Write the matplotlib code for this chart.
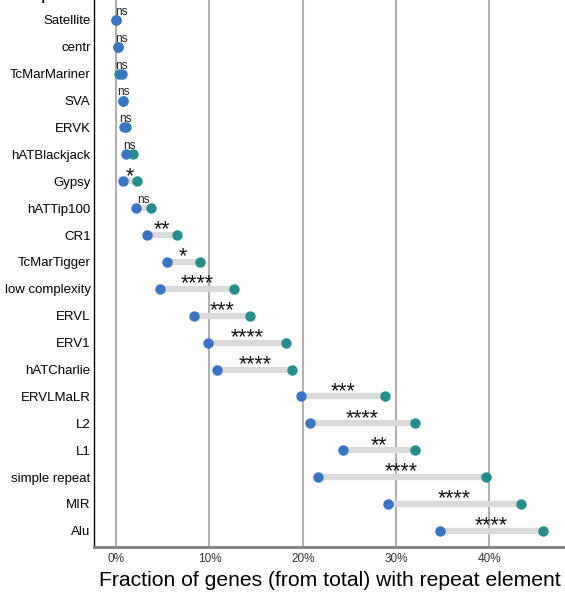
import matplotlib
matplotlib.use("Agg")
import matplotlib.pyplot as plt

plt.rcParams["font.family"] = ["Liberation Sans", "DejaVu Sans"]

repeats = ["Satellite", "centr", "TcMarMariner", "SVA", "ERVK", "hATBlackjack",
           "Gypsy", "hATTip100", "CR1", "TcMarTigger", "low complexity", "ERVL",
           "ERV1", "hATCharlie", "ERVLMaLR", "L2", "L1", "simple repeat", "MIR", "Alu"]
group_a = [0.0, 0.2, 0.6, 0.8, 0.85, 1.05, 0.7, 2.1, 3.35, 5.45, 4.7, 8.4,
           9.9, 10.85, 19.8, 20.8, 24.3, 21.6, 29.1, 34.7]
group_b = [0.0, 0.2, 0.35, 0.8, 1.1, 1.8, 2.2, 3.8, 6.5, 8.95, 12.6, 14.4,
           18.2, 18.9, 28.8, 32.0, 32.0, 39.6, 43.4, 45.7]
significance = ["ns", "ns", "ns", "ns", "ns", "ns", "*", "ns", "**", "*", "****",
                "***", "****", "****", "***", "****", "**", "****", "****", "****"]
xticks = [0, 10, 20, 30, 40]

blue = "#3a74c3"
teal = "#278f8b"

fig = plt.figure(figsize=(5.65, 5.97), dpi=100)
ax = fig.add_axes([94 / 565, 1 - 547 / 597, 1 - 94 / 565, 547 / 597])

for x in xticks:
    ax.axvline(x, color="#b0b0b0", lw=1.5, zorder=0)

ys = list(range(len(repeats)))
for y, a, b, s in zip(ys, group_a, group_b, significance):
    ax.plot([a, b], [y, y], color="#dadada", lw=4.5, solid_capstyle="butt", zorder=1)
    ax.plot(b, y, "o", color=teal, ms=7.5, mec="none", zorder=2)
    ax.plot(a, y, "o", color=blue, ms=7.5, mec="none", zorder=3)
    mid = max((a + b) / 2, 0.6)
    if s == "ns":
        ax.annotate(s, (mid, y), xytext=(0, 1.5), textcoords="offset points",
                    ha="center", va="bottom", fontsize=8.5, color="#222222")
    else:
        ax.annotate(s, (mid, y), xytext=(0, -4.0), textcoords="offset points",
                    ha="center", va="bottom", fontsize=15.5, color="#111111")

ax.set_yticks(ys)
ax.set_yticklabels(repeats, fontsize=9.5)
ax.set_ylim(19.6, -0.74)
ax.set_xlim(-2.36, 48.1)
ax.set_xticks(xticks)
ax.set_xticklabels([f"{x}%" for x in xticks], fontsize=8.5, color="#333333")
ax.tick_params(axis="both", length=0)
ax.tick_params(axis="y", pad=2.5)
ax.tick_params(axis="x", pad=4)
ax.set_xlabel("Fraction of genes (from total) with repeat element", fontsize=15.2, labelpad=5)

for side in ("top", "right"):
    ax.spines[side].set_visible(False)
ax.spines["left"].set_color("black")
ax.spines["left"].set_linewidth(1)
ax.spines["bottom"].set_color("#808080")
ax.spines["bottom"].set_linewidth(2)

fig.text(16 / 565, 1 + 1 / 597, "Repeat", fontsize=14, ha="left", va="baseline")

fig.savefig("out.png", dpi=100)
